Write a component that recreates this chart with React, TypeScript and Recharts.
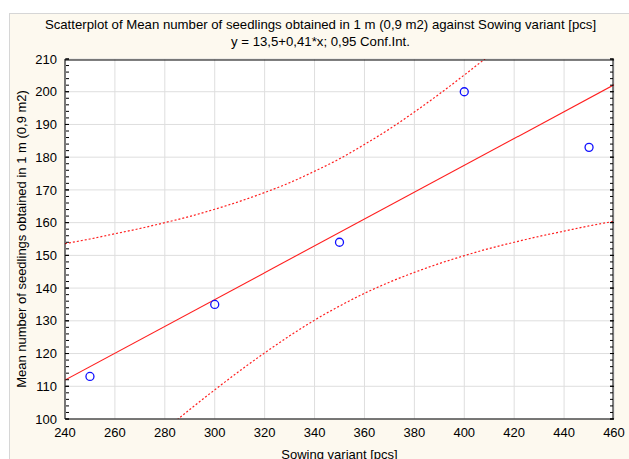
import React from 'react';
import { ComposedChart, XAxis, YAxis, CartesianGrid, Scatter, Line } from 'recharts';

const sowing = [250, 300, 350, 400, 450];
const seedlings = [113, 135, 154, 200, 183];
const fitX = [240, 460];
const fitY = [111.9, 202.1];
const ciX = [240, 250, 260, 270, 280, 290, 300, 310, 320, 330, 340, 350, 360, 370, 380, 390, 400, 410, 420, 430, 440, 450, 460];
const ciUpper = [153.6, 155.0, 156.6, 158.2, 160.0, 161.9, 164.1, 166.5, 169.2, 172.2, 175.7, 179.5, 183.9, 188.6, 193.8, 199.3, 205.1, 211.1, 217.4, 223.8, 230.4, 237.0, 243.8];
const ciLower = [70.2, 77.0, 83.6, 90.2, 96.6, 102.9, 108.9, 114.7, 120.2, 125.4, 130.2, 134.5, 138.4, 141.8, 144.8, 147.5, 149.9, 152.1, 154.0, 155.8, 157.4, 159.0, 160.4];
const xTicks = [240, 260, 280, 300, 320, 340, 360, 380, 400, 420, 440, 460];
const yTicks = [100, 110, 120, 130, 140, 150, 160, 170, 180, 190, 200, 210];
const xMinorTicks = Array.from({ length: 56 }, (_, i) => 240 + 4 * i);
const yMinorTicks = Array.from({ length: 56 }, (_, i) => 100 + 2 * i);

const titleLine1 = 'Scatterplot of Mean number of seedlings obtained in 1 m (0,9 m2) against Sowing variant [pcs]';
const titleLine2 = 'y = 13,5+0,41*x; 0,95 Conf.Int.';
const xTitle = 'Sowing variant [pcs]';
const yTitle = 'Mean number of seedlings obtained in 1 m (0,9 m2)';

const points = sowing.map((x, i) => ({ x, y: seedlings[i] }));
const fitData = fitX.map((x, i) => ({ x, y: fitY[i] }));
const upperData = ciX.map((x, i) => ({ x, y: ciUpper[i] }));
const lowerData = ciX.map((x, i) => ({ x, y: ciLower[i] }));

const XD: [number, number] = [240, 460];
const YD: [number, number] = [100, 210];
const FONT = '"Liberation Sans", Arial, sans-serif';
const RED = '#ff1f1f';

const Dot = (p: any) => (
  <circle cx={p.cx} cy={p.cy} r={4} fill="none" stroke="#1010ff" strokeWidth={1.3} />
);

const NoLabel = () => <g />;

export default function App() {
  const tickLine = { stroke: '#000', strokeWidth: 1 };
  const common = { type: 'number' as const, interval: 0, allowDataOverflow: true, mirror: true, tick: NoLabel, tickLine };
  return (
    <div
      style={{
        position: 'fixed',
        left: 9,
        top: 13,
        right: 0,
        bottom: 0,
        background: '#fdf9ef',
        borderTop: '1px solid #d6d6d6',
        borderLeft: '1px solid #d6d6d6',
        overflow: 'hidden',
        fontFamily: FONT,
        color: '#000',
      }}
    >
      <div style={{ position: 'absolute', left: 0, top: 2, width: 621, textAlign: 'center', fontSize: 13.2, lineHeight: '17px' }}>
        <div>{titleLine1}</div>
        <div>{titleLine2}</div>
      </div>
      <div
        style={{
          position: 'absolute',
          left: 11,
          top: 225,
          transform: 'translate(-50%, -50%) rotate(-90deg)',
          whiteSpace: 'nowrap',
          fontSize: 13,
        }}
      >
        {yTitle}
      </div>
      <div
        style={{
          position: 'absolute',
          left: 329.5,
          top: 440,
          transform: 'translate(-50%, -50%)',
          whiteSpace: 'nowrap',
          fontSize: 13,
        }}
      >
        {xTitle}
      </div>
      <div style={{ position: 'absolute', left: 0, top: 0 }}>
        <ComposedChart width={619} height={445} margin={{ top: 45, right: 15, bottom: 0, left: 0 }}>
          <CartesianGrid xAxisId="x" yAxisId="y" stroke="#dedede" strokeWidth={1} horizontal vertical fill="#fff" fillOpacity={1} />
          <XAxis
            xAxisId="x"
            type="number"
            dataKey="x"
            domain={XD}
            ticks={xTicks}
            interval={0}
            allowDataOverflow
            height={40}
            tickLine={false}
            tickSize={6}
            tickMargin={3}
            axisLine={{ stroke: '#000' }}
            tick={{ fill: '#000', fontSize: 13, fontFamily: FONT }}
          />
          <YAxis
            yAxisId="y"
            type="number"
            dataKey="y"
            domain={YD}
            ticks={yTicks}
            interval={0}
            allowDataOverflow
            width={55}
            tickLine={false}
            tickSize={6}
            tickMargin={2}
            axisLine={{ stroke: '#000' }}
            tick={{ fill: '#000', fontSize: 13, fontFamily: FONT }}
          />
          <XAxis {...common} xAxisId="xbm" domain={XD} ticks={xMinorTicks} orientation="bottom" height={1} axisLine={false} tickSize={3} />
          <XAxis {...common} xAxisId="xbM" domain={XD} ticks={xTicks} orientation="bottom" height={1} axisLine={false} tickSize={4} />
          <XAxis {...common} xAxisId="xtm" domain={XD} ticks={xMinorTicks} orientation="top" height={1} axisLine={{ stroke: '#000' }} tickSize={3} />
          <XAxis {...common} xAxisId="xtM" domain={XD} ticks={xTicks} orientation="top" height={1} axisLine={false} tickSize={4} />
          <YAxis {...common} yAxisId="ylm" domain={YD} ticks={yMinorTicks} orientation="left" width={1} axisLine={false} tickSize={3} />
          <YAxis {...common} yAxisId="ylM" domain={YD} ticks={yTicks} orientation="left" width={1} axisLine={false} tickSize={4} />
          <YAxis {...common} yAxisId="yrm" domain={YD} ticks={yMinorTicks} orientation="right" width={1} axisLine={{ stroke: '#000' }} tickSize={3} />
          <YAxis {...common} yAxisId="yrM" domain={YD} ticks={yTicks} orientation="right" width={1} axisLine={false} tickSize={4} />
          <Line xAxisId="x" yAxisId="y" data={upperData} dataKey="y" type="monotone" stroke={RED} strokeWidth={1.2} strokeDasharray="2 2" dot={false} activeDot={false} isAnimationActive={false} />
          <Line xAxisId="x" yAxisId="y" data={lowerData} dataKey="y" type="monotone" stroke={RED} strokeWidth={1.2} strokeDasharray="2 2" dot={false} activeDot={false} isAnimationActive={false} />
          <Line xAxisId="x" yAxisId="y" data={fitData} dataKey="y" type="linear" stroke={RED} strokeWidth={1.1} dot={false} activeDot={false} isAnimationActive={false} />
          <Scatter xAxisId="x" yAxisId="y" data={points} dataKey="y" shape={Dot} isAnimationActive={false} />
        </ComposedChart>
      </div>
    </div>
  );
}
